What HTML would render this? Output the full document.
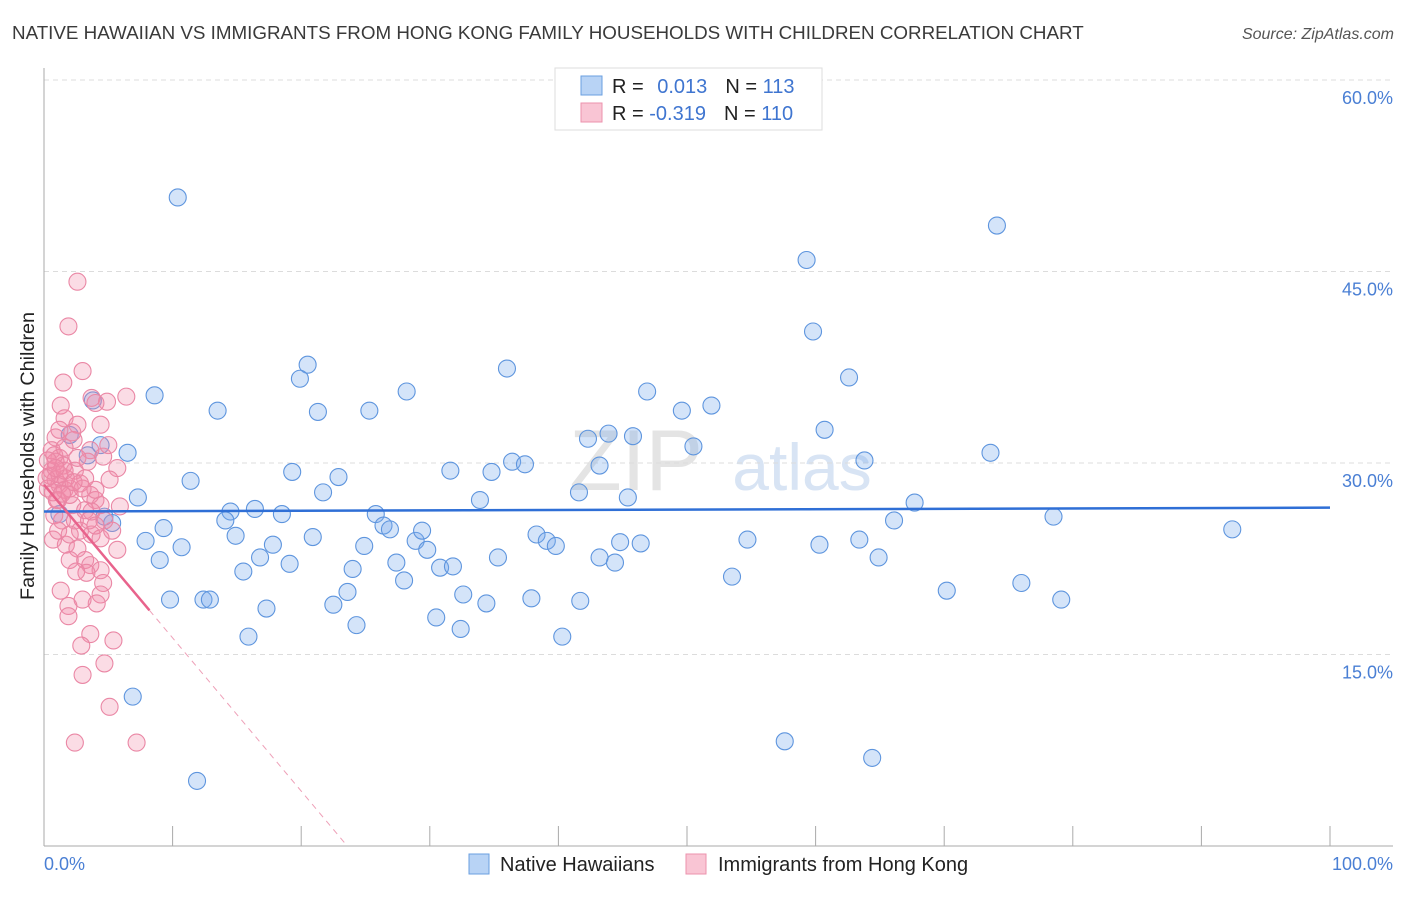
<!DOCTYPE html>
<html><head><meta charset="utf-8">
<style>
body{margin:0;background:#fff;font-family:"Liberation Sans",sans-serif;}
svg text{font-family:"Liberation Sans",sans-serif;}
</style></head>
<body>
<svg id="chart" width="1406" height="892" viewBox="0 0 1406 892">
<text x="12" y="39" font-size="18.8" fill="#3a3a3a">NATIVE HAWAIIAN VS IMMIGRANTS FROM HONG KONG FAMILY HOUSEHOLDS WITH CHILDREN CORRELATION CHART</text>
<text x="1394" y="39" font-size="16" fill="#555" text-anchor="end" font-style="italic">Source: ZipAtlas.com</text>
<text x="0" y="0" font-size="19.8" fill="#222" text-anchor="middle" transform="translate(34,456) rotate(-90)">Family Households with Children</text>
<g>
<text x="636" y="490" font-size="86" fill="#e4e4e4" text-anchor="middle" font-family="Liberation Serif">ZIP</text>
<text x="802" y="490" font-size="66" fill="#d8e4f4" text-anchor="middle">atlas</text>
</g>
<g id="grid"></g>
<g id="axes"></g>
<g id="points"></g>
<g id="trends"></g>
<g>
<rect x="555" y="68" width="267" height="62" fill="#fff" stroke="#ddd"/>
<rect x="581" y="76" width="21" height="19" fill="#b8d3f5" stroke="#6a9fe0"/>
<rect x="581" y="103" width="21" height="19" fill="#f9c5d4" stroke="#ec92ad"/>
<text x="612" y="93" font-size="20" fill="#222">R = <tspan fill="#3f75d0" dx="8">0.013</tspan><tspan dx="18" fill="#222">N = </tspan><tspan fill="#3f75d0">113</tspan></text>
<text x="612" y="120" font-size="20" fill="#222">R = <tspan fill="#3f75d0">-0.319</tspan><tspan dx="18" fill="#222">N = </tspan><tspan fill="#3f75d0">110</tspan></text>
</g>
<g>
<rect x="469" y="854" width="20" height="20" fill="#b8d3f5" stroke="#6a9fe0"/>
<text x="500" y="871" font-size="20" fill="#222">Native Hawaiians</text>
<rect x="686" y="854" width="20" height="20" fill="#f9c5d4" stroke="#ec92ad"/>
<text x="718" y="871" font-size="20" fill="#222">Immigrants from Hong Kong</text>
</g>
</svg>
<script>
const yTicks=[15,30,45,60];
const yTickLabels=["15.0%","30.0%","45.0%","60.0%"];
const xTickLabels=["0.0%","100.0%"];
const blueX=[10.4,74.1,59.3,59.8,20.5,19.9,36.0,62.6,28.2,8.6,13.5,21.3,25.3,49.6,51.9,46.9,3.8,60.7,43.9,42.3,45.8,50.5,2.0,4.4,6.5,3.4,19.3,31.6,34.8,36.4,37.4,43.2,63.8,73.6,11.4,22.9,21.7,7.3,33.9,41.6,45.4,67.7,1.2,4.7,5.3,14.5,16.4,18.5,25.8,14.1,26.4,26.9,66.1,78.5,92.4,9.3,7.9,14.9,20.9,10.7,17.8,28.9,29.4,29.8,38.3,39.1,39.8,44.8,46.4,54.7,60.3,63.4,9.0,16.8,19.1,24.9,27.4,30.8,31.8,35.3,43.2,44.4,64.9,15.5,24.0,28.0,53.5,76.0,9.8,12.4,12.9,17.3,22.5,23.6,32.6,34.4,37.9,41.7,70.2,79.1,15.9,24.3,30.5,32.4,40.3,6.9,57.6,64.4,11.9];
const blueY=[50.8,48.6,45.9,40.3,37.7,36.6,37.4,36.7,35.6,35.3,34.1,34.0,34.1,34.1,34.5,35.6,34.9,32.6,32.3,31.9,32.1,31.3,32.2,31.4,30.8,30.6,29.3,29.4,29.3,30.1,29.9,29.8,30.2,30.8,28.6,28.9,27.7,27.3,27.1,27.7,27.3,26.9,26.0,25.8,25.3,26.2,26.4,26.0,26.0,25.5,25.1,24.8,25.5,25.8,24.8,24.9,23.9,24.3,24.2,23.4,23.6,23.9,24.7,23.2,24.4,23.9,23.5,23.8,23.7,24.0,23.6,24.0,22.4,22.6,22.1,23.5,22.2,21.8,21.9,22.6,22.6,22.2,22.6,21.5,21.7,20.8,21.1,20.6,19.3,19.3,19.3,18.6,18.9,19.9,19.7,19.0,19.4,19.2,20.0,19.3,16.4,17.3,17.9,17.0,16.4,11.7,8.2,6.9,5.1];
const pinkX=[2.6,1.9,3.0,1.5,1.3,3.7,6.4,4.9,4.0,1.6,2.6,4.4,0.9,2.2,3.6,4.6,5.7,0.6,1.2,1.5,2.4,3.4,0.5,0.9,1.2,1.6,2.0,2.8,3.6,4.0,5.1,1.1,2.2,3.2,4.4,5.9,0.8,1.4,2.4,2.8,3.7,4.4,1.7,0.7,2.6,3.2,3.6,2.0,4.4,3.3,2.5,4.6,1.3,4.4,1.9,4.1,1.9,3.0,3.6,5.4,2.9,4.7,3.0,5.1,2.4,7.2,1.0,0.6,0.9,1.2,0.3,1.7,2.0,0.8,1.6,2.3,4.0,3.0,1.2,1.1,5.0,5.3,5.7,3.5,2.0,0.7,2.6,1.6,3.2,0.3,0.2,0.9,1.4,2.3,3.7,4.7,4.0];
const pinkY=[44.2,40.7,37.2,36.3,34.5,35.1,35.2,34.8,34.7,33.5,33.0,33.0,32.0,32.4,31.0,30.5,29.6,31.0,30.4,29.8,29.4,30.1,29.0,28.7,28.3,27.9,28.0,28.4,27.5,27.1,28.7,27.1,26.7,26.3,26.7,26.6,25.9,25.5,25.5,24.7,24.4,24.1,23.6,24.0,23.3,22.4,22.0,22.4,21.6,21.4,21.5,20.6,20.0,19.7,18.8,19.0,18.0,19.3,16.6,16.1,15.7,14.3,13.4,10.9,8.1,8.1,27.1,29.4,30.1,29.1,28.0,28.8,27.5,30.6,31.2,31.8,27.9,28.0,32.6,24.7,31.4,24.7,23.2,25.5,24.4,27.7,30.4,29.4,28.8,30.2,28.8,29.6,27.6,28.5,26.2,25.5,25.1];
const blueTrend=[26.2,26.5];      // y at x=0, x=100
const pinkTrend=[28.3,-1.2];      // intercept, slope
const pinkSolidEnd=8.2;

const NS="http://www.w3.org/2000/svg";
const X0=44,X1=1330,Y0=846,YTOP=80;
const sx=v=>X0+(X1-X0)*v/100;
const sy=v=>Y0-(Y0-YTOP)*v/60;
function mk(tag,attrs,parent){const e=document.createElementNS(NS,tag);for(const k in attrs)e.setAttribute(k,attrs[k]);parent.appendChild(e);return e;}
const grid=document.getElementById('grid'),axes=document.getElementById('axes'),pts=document.getElementById('points'),tr=document.getElementById('trends');
yTicks.forEach((t,i)=>{
 const l=mk('line',{x1:X0,x2:1393,y1:sy(t),y2:sy(t),stroke:'#dcdcdc','stroke-dasharray':'5,4'},grid);
 
 
 const tx=mk('text',{x:1393,y:sy(t)+24,'font-size':18,fill:'#4a7fd4','text-anchor':'end'},axes);
 tx.textContent=yTickLabels[i];
 
 
});
const ya=mk('line',{x1:X0,x2:X0,y1:68,y2:Y0,stroke:'#aaa'},axes);


const xa=mk('line',{x1:X0,x2:1393,y1:Y0,y2:Y0,stroke:'#aaa'},axes);


for(let v=10;v<=100;v+=10){
 const t=mk('line',{x1:sx(v),x2:sx(v),y1:826,y2:Y0,stroke:'#aaa'},axes);
 
 
}
const xl0=mk('text',{x:44,y:870,'font-size':18,fill:'#4a7fd4'},axes);xl0.textContent=xTickLabels[0];


const xl1=mk('text',{x:1393,y:870,'font-size':18,fill:'#4a7fd4','text-anchor':'end'},axes);xl1.textContent=xTickLabels[1];


blueX.forEach((v,i)=>{
 const c=mk('circle',{cx:sx(v),cy:sy(blueY[i]),r:8.5,fill:'rgba(120,170,235,0.32)',stroke:'#5e95de','stroke-width':1.1},pts);
 
 
});
pinkX.forEach((v,i)=>{
 const c=mk('circle',{cx:sx(v),cy:sy(pinkY[i]),r:8.5,fill:'rgba(242,140,170,0.3)',stroke:'#ea87a5','stroke-width':1.1},pts);
 
 
});
const bl=mk('line',{x1:sx(0),y1:sy(blueTrend[0]),x2:sx(100),y2:sy(blueTrend[1]),stroke:'#2f6fd6','stroke-width':2.5},tr);


const pf=x=>pinkTrend[0]+pinkTrend[1]*x;
const xEnd=-pinkTrend[0]/pinkTrend[1];
const ps=mk('line',{x1:sx(0),y1:sy(pf(0)),x2:sx(pinkSolidEnd),y2:sy(pf(pinkSolidEnd)),stroke:'#e8638c','stroke-width':2.5},tr);


const pd=mk('line',{x1:sx(pinkSolidEnd),y1:sy(pf(pinkSolidEnd)),x2:sx(xEnd),y2:sy(0),stroke:'#eea0b8','stroke-width':1,'stroke-dasharray':'6,5'},tr);


</script>
</body></html>
